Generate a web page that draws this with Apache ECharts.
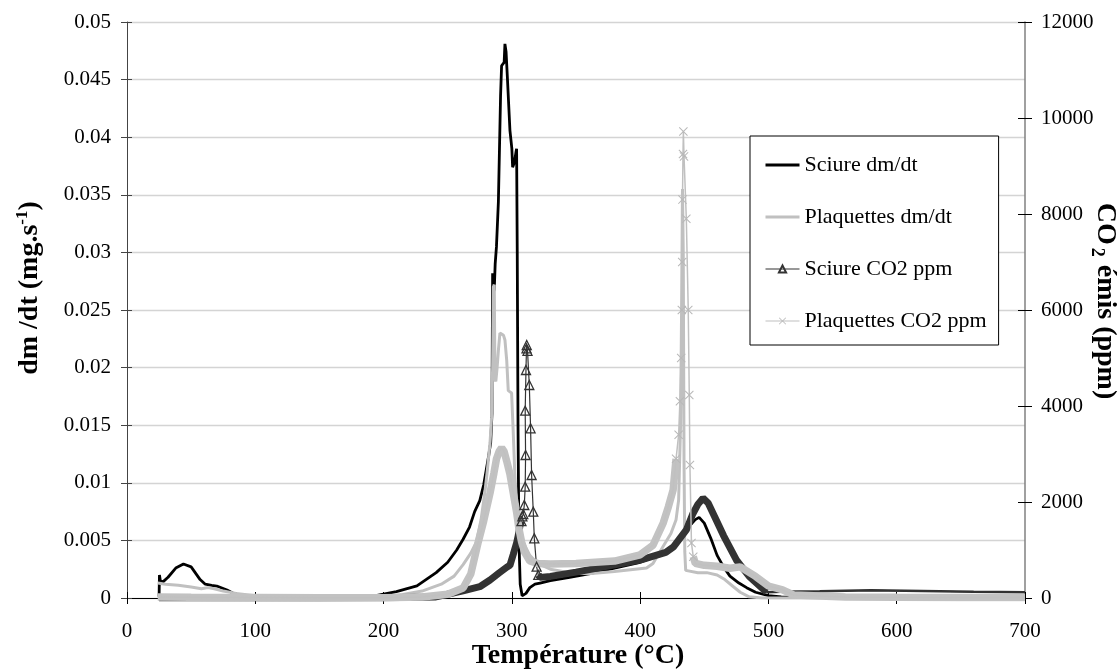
<!DOCTYPE html>
<html>
<head>
<meta charset="utf-8">
<script src="https://cdn.jsdelivr.net/npm/echarts@6/dist/echarts.min.js"></script>
<style>html,body{margin:0;padding:0;background:#fff}#c{width:1119px;height:671px}</style>
</head>
<body>
<div id="c"></div>
<script>
// ---- Data ----
// Sciure dm/dt (mg/s) vs temperature (°C)
const sciureDmT = [25,25.3,26,28,32,38,44,50,57,61,66,70,78,83,90,100,120,150,180,195,210,226,241,250,257,262,267,271,275,278,280,282,283.5,284.5,285,285.5,286.3,287,288,289.5,291.2,292,293,294,294.6,295.5,296.5,298.5,300,300.6,302,303.2,303.7,304.2,304.8,305.5,306.5,308,309,311,314,318,322,330,345,360,380,400,415,425,432,438,443,446,450,455,460,465,470,477,483,490,500,510,520,560,600,650,700];
const sciureDmV = [0.0001,0.002,0.0015,0.0014,0.0018,0.0026,0.00295,0.0027,0.0016,0.0012,0.0011,0.00104,0.0007,0.0004,0.0002,0.0001,0.00005,0,0.0001,0.00023,0.00056,0.00105,0.0022,0.0031,0.00417,0.0051,0.00616,0.0075,0.00845,0.0098,0.0111,0.0124,0.0135,0.016,0.0282,0.0265,0.0268,0.029,0.0305,0.0344,0.0436,0.0462,0.0462,0.0465,0.0481,0.0474,0.0452,0.0406,0.039,0.0374,0.0378,0.0387,0.039,0.03,0.015,0.005,0.0012,0.0002,0.0001,0.0004,0.0009,0.0012,0.0013,0.0015,0.0018,0.0021,0.0026,0.0031,0.0037,0.0045,0.0053,0.0062,0.0068,0.0070,0.0065,0.0052,0.0037,0.0027,0.0019,0.0013,0.0009,0.0005,0.0002,0.0001,0.00005,0.00005,0.00005,0.00003,0.00003];

// Plaquettes dm/dt (mg/s)
const plaqDmT = [24,30,40,50,58,63,68,75,85,100,120,150,180,200,215,230,245,255,262,268,272.5,276,279,281,283,284.2,285,285.6,286.3,286.8,287.5,288.5,289.5,290.7,292,293.5,294.6,296,297.2,299.8,301,302.4,303.7,306.3,309,314,320,330,345,360,380,405,410,418,424,428,430,431.5,432.3,433,433.6,434.2,434.8,435.5,437,445,452,460,466,472.5,478,485,495,510,550,600,650,700];
const plaqDmV = [0.0013,0.0012,0.0011,0.00095,0.0008,0.0009,0.0008,0.0006,0.0004,0.0002,0.0001,0,0,0.0001,0.0003,0.0006,0.0012,0.0019,0.0029,0.0039,0.0049,0.0068,0.0092,0.0112,0.0135,0.0157,0.02,0.027,0.0272,0.019,0.0188,0.02,0.0215,0.023,0.0229,0.0228,0.0224,0.0206,0.018,0.0178,0.0146,0.0105,0.0082,0.0059,0.0048,0.0037,0.003,0.0025,0.0022,0.0021,0.0023,0.0026,0.003,0.0045,0.0056,0.0068,0.0085,0.015,0.025,0.0355,0.03,0.012,0.004,0.0024,0.0023,0.0022,0.0022,0.002,0.0016,0.001,0.0005,0.0001,0,0,0,0,0,0];

// Sciure CO2 (ppm)
const sciureCO2T = [25,50,100,150,200,240,262,275,283,290,296,298.5,301,303.7,305,306.3,307.5,308.2,308.9,309.7,310.4,310.7,310.4,311,311.4,311.6,312.2,313.6,314.6,315.4,316.7,317.5,319.3,320.6,322,330,350,380,400,420,426,436,441,445,449,453,458,465,475,485,498.5,510,540,580,620,660,700];
const sciureCO2V = [0,0,0,0,5,20,150,235,375,520,640,680,900,1146,1300,1500,1600,1700,1750,1937,2319,2979,3902,4750,5200,5271,5150,4437,3535,2563,1798,1244,652,480,430,450,540,690,790,950,1065,1417,1750,1950,2080,1980,1700,1300,792,450,120,130,140,160,145,130,120];

// Plaquettes CO2 (ppm)
const plaqCO2T = [24,50,100,150,200,230,250,262,268,273.8,278,283,286,288,290,292,294,296,298.5,301,303.7,305.5,307.6,310,314,320,330,350,380,400,410,418,422,425.7,428,430,431,432,432.5,432.8,433,433.4,433.7,434.2,436,437.5,438.3,438.8,440,441.4,443,450,460,470,478,490,500,511,520,560,600,650,700];
const plaqCO2V = [20,15,10,5,5,20,80,208,500,1167,1600,2187,2600,2895,3050,3131,3050,2850,2583,2200,1792,1450,1167,950,771,720,710,720,770,900,1100,1563,1900,2250,2900,3400,4100,5000,6000,7000,8300,9250,9717,9200,7900,6000,4230,2770,1146,860,720,680,660,620,648,450,250,170,60,20,15,10,10];

// Axis ranges / ticks
const xRange = [0, 700, 100];
const leftRange = [0, 0.05, 0.005];
const rightRange = [0, 12000, 2000];
const seriesNames = ['Sciure dm/dt', 'Plaquettes dm/dt', 'Sciure CO2 ppm', 'Plaquettes CO2 ppm'];

// ---- Build ----
const FF = "'Liberation Serif','Times New Roman',serif";
const zip = (t, v) => t.map((x, i) => [x, v[i]]);
const part = (t, v, f) => zip(t, v).filter(p => f(p[0]));
const marked = (t, v, lo, hi) => zip(t, v).map(p => (p[0] > lo && p[0] < hi) ? { value: p } : { value: p, symbol: 'none' });

const SC_LO = 307, SC_HI = 321;
const PC_LO = 426, PC_HI = 442;
const xMark = 'path://M0,0.8L0.8,0L5,4.2L9.2,0L10,0.8L5.8,5L10,9.2L9.2,10L5,5.8L0.8,10L0,9.2L4.2,5Z';

const chart = echarts.init(document.getElementById('c'));
const axisLbl = { fontFamily: FF, fontSize: 21, color: '#000' };
const baseX = { type: 'value', min: xRange[0], max: xRange[1], interval: xRange[2] };
const baseL = { type: 'value', min: leftRange[0], max: leftRange[1], interval: leftRange[2] };
const baseR = { type: 'value', min: rightRange[0], max: rightRange[1], interval: rightRange[2] };
const gridRect = { left: 127, right: 94, top: 22, bottom: 73 };

chart.setOption({
  animation: false,
  backgroundColor: '#fff',
  grid: [Object.assign({}, gridRect), Object.assign({}, gridRect)],
  xAxis: [
    Object.assign({}, baseX, {
      gridIndex: 0,
      axisLine: { lineStyle: { color: '#000', width: 1 } },
      axisTick: { show: true, length: 6, lineStyle: { color: '#000' } },
      axisLabel: Object.assign({ margin: 23 }, axisLbl),
      splitLine: { show: false }
    }),
    Object.assign({}, baseX, {
      gridIndex: 1, position: 'bottom',
      axisLine: { show: false },
      axisTick: { show: true, inside: true, length: 6, lineStyle: { color: '#000' } },
      axisLabel: { show: false },
      splitLine: { show: false }
    })
  ],
  yAxis: [
    Object.assign({}, baseL, {
      gridIndex: 0, position: 'left',
      axisLine: { show: true, lineStyle: { color: '#444', width: 1 } },
      axisTick: { show: true, length: 6, lineStyle: { color: '#444' } },
      axisLabel: Object.assign({ margin: 16, formatter: v => String(+v.toFixed(3)) }, axisLbl),
      splitLine: { show: true, lineStyle: { color: '#d4d4d4', width: 1.3 } }
    }),
    Object.assign({}, baseR, {
      gridIndex: 0, position: 'right',
      axisLine: { show: true, lineStyle: { color: '#808080', width: 1.5 } },
      axisTick: { show: true, length: 7, lineStyle: { color: '#000' } },
      axisLabel: Object.assign({ margin: 16, formatter: v => String(v) }, axisLbl),
      splitLine: { show: false }
    }),
    Object.assign({}, baseL, {
      gridIndex: 1, position: 'left',
      axisLine: { show: false },
      axisTick: { show: true, inside: true, length: 5, lineStyle: { color: '#444' } },
      axisLabel: { show: false },
      splitLine: { show: false }
    }),
    Object.assign({}, baseR, {
      gridIndex: 1, position: 'right',
      axisLine: { show: false },
      axisTick: { show: true, inside: true, length: 7, lineStyle: { color: '#000' } },
      axisLabel: { show: false },
      splitLine: { show: false }
    })
  ],
  legend: {
    data: [
      { name: seriesNames[0], itemStyle: { opacity: 0 }, lineStyle: { width: 3, color: '#000' } },
      { name: seriesNames[1], itemStyle: { opacity: 0 }, lineStyle: { width: 3, color: '#c0c0c0' } },
      { name: seriesNames[2], lineStyle: { width: 1.2, color: '#333' } },
      { name: seriesNames[3], lineStyle: { width: 1.2, color: '#c0c0c0' } }
    ],
    orient: 'vertical',
    left: 750, top: 136,
    itemWidth: 34, itemHeight: 9, itemGap: 28,
    padding: [17, 12, 12, 14],
    borderColor: '#000', borderWidth: 1, borderRadius: 0,
    backgroundColor: '#fff',
    selectedMode: false,
    textStyle: { fontFamily: FF, fontSize: 22, color: '#000', lineHeight: 24 }
  },
  graphic: [
    { type: 'text', x: 578, y: 656, z: 100,
      style: { text: 'Température (°C)', font: "bold 28px 'Liberation Serif', serif", fill: '#000', align: 'center', verticalAlign: 'middle' } },
    { type: 'text', x: 30, y: 288, rotation: Math.PI / 2, z: 100,
      style: { text: '{a|dm /dt (mg.s}{s|-1}{a|)}', align: 'center', verticalAlign: 'middle',
        rich: { a: { fontFamily: FF, fontWeight: 'bold', fontSize: 28, lineHeight: 32, fill: '#000', color: '#000' },
                s: { fontFamily: FF, fontWeight: 'bold', fontSize: 17, lineHeight: 17, verticalAlign: 'top', fill: '#000', color: '#000' } } } },
    { type: 'text', x: 1105, y: 301, rotation: -Math.PI / 2, z: 100,
      style: { text: '{a|CO}{s|2}{a| émis (ppm)}', align: 'center', verticalAlign: 'middle',
        rich: { a: { fontFamily: FF, fontWeight: 'bold', fontSize: 28, lineHeight: 34, fill: '#000', color: '#000' },
                s: { fontFamily: FF, fontWeight: 'bold', fontSize: 18, lineHeight: 12, padding: [0, 1, 0, 3], verticalAlign: 'bottom', fill: '#000', color: '#000' } } } }
  ],
  series: [
    { name: seriesNames[0], type: 'line', data: zip(sciureDmT, sciureDmV),
      showSymbol: false, symbol: 'none', lineStyle: { color: '#000', width: 2.8 }, itemStyle: { color: '#000' } },
    { name: seriesNames[1], type: 'line', data: zip(plaqDmT, plaqDmV),
      showSymbol: false, symbol: 'none', lineStyle: { color: '#c0c0c0', width: 3 }, itemStyle: { color: '#c0c0c0' } },
    { name: 'sc-band-a', type: 'line', yAxisIndex: 1, data: part(sciureCO2T, sciureCO2V, x => x <= SC_LO + 0.5),
      symbol: 'none', lineStyle: { color: '#333', width: 7 }, silent: true },
    { name: 'sc-band-b', type: 'line', yAxisIndex: 1, data: part(sciureCO2T, sciureCO2V, x => x >= SC_HI - 1 && x <= 500),
      symbol: 'none', lineStyle: { color: '#333', width: 7 }, silent: true },
    { name: 'sc-band-c', type: 'line', yAxisIndex: 1, data: part(sciureCO2T, sciureCO2V, x => x >= 498),
      symbol: 'none', lineStyle: { color: '#333', width: 2.5 }, silent: true },
    { name: seriesNames[2], type: 'line', yAxisIndex: 1, data: marked(sciureCO2T, sciureCO2V, SC_LO, SC_HI),
      symbol: 'triangle', symbolSize: 9, showSymbol: true,
      lineStyle: { color: '#333', width: 1.2 },
      itemStyle: { color: 'rgba(255,255,255,0)', borderColor: '#333', borderWidth: 1.3 } },
    { name: 'pc-band-a', type: 'line', yAxisIndex: 1, data: part(plaqCO2T, plaqCO2V, x => x <= PC_LO + 2),
      symbol: 'none', lineStyle: { color: '#c2c2c2', width: 7.5 }, silent: true },
    { name: 'pc-band-b', type: 'line', yAxisIndex: 1, data: part(plaqCO2T, plaqCO2V, x => x >= PC_HI - 1),
      symbol: 'none', lineStyle: { color: '#c2c2c2', width: 7.5 }, silent: true },
    { name: seriesNames[3], type: 'line', yAxisIndex: 1, data: marked(plaqCO2T, plaqCO2V, PC_LO, PC_HI),
      symbol: xMark, symbolSize: 9, showSymbol: true,
      lineStyle: { color: '#c0c0c0', width: 1.5 },
      itemStyle: { color: '#b8b8b8' } }
  ]
});
</script>
</body>
</html>
